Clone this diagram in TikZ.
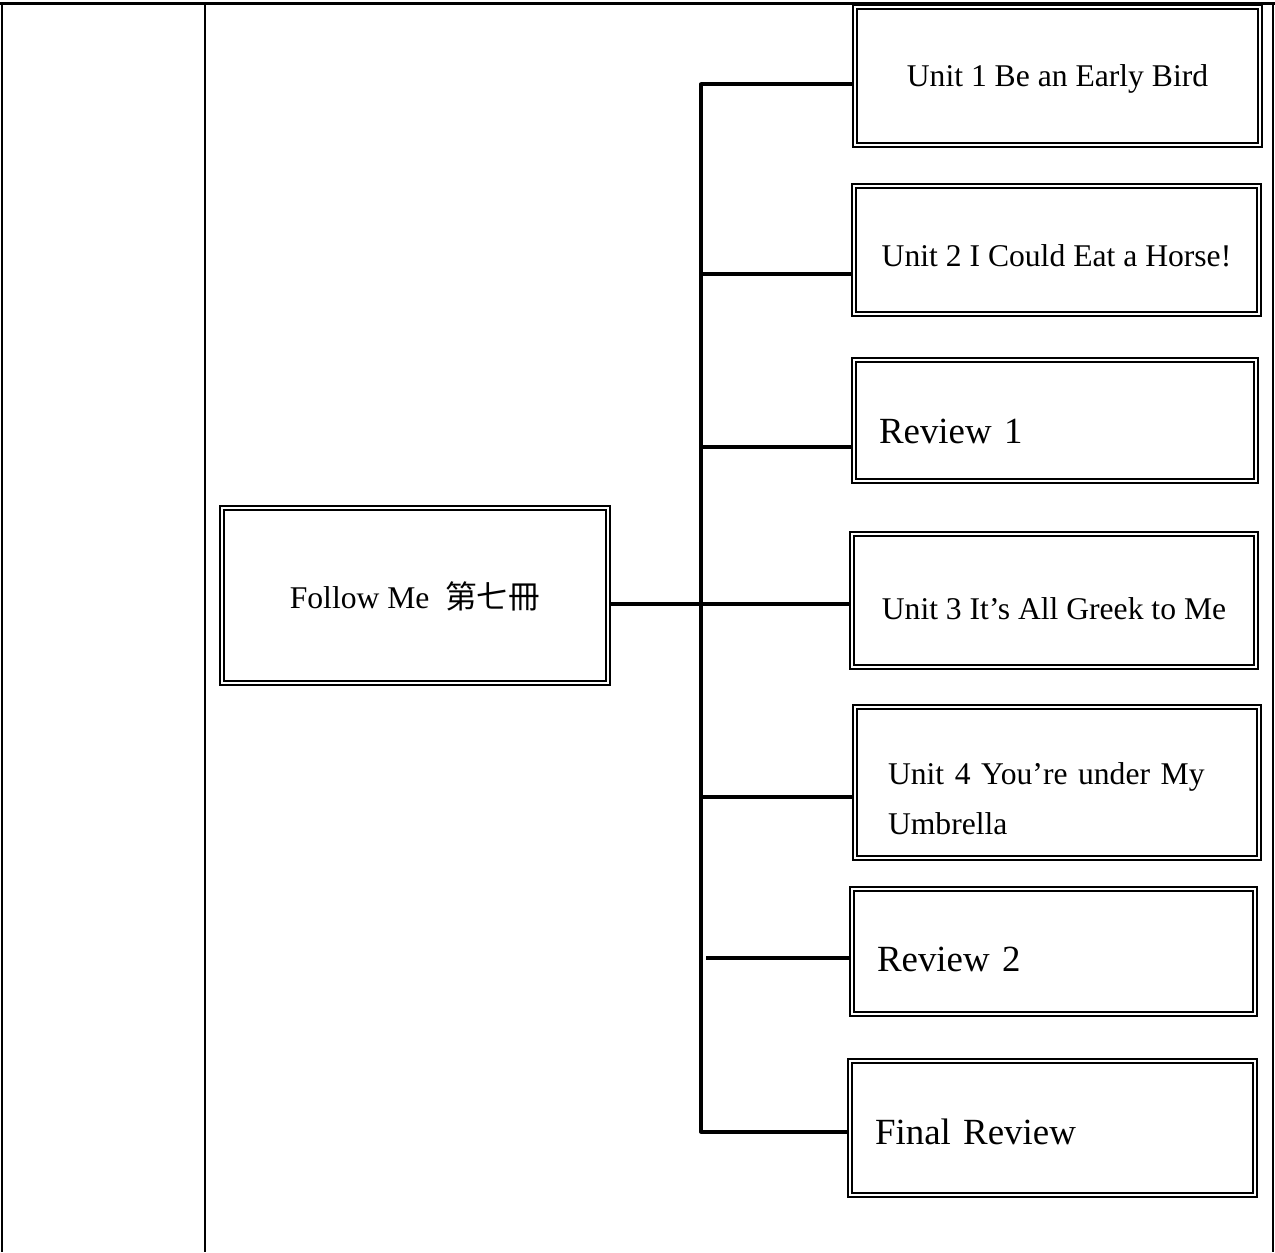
\documentclass[tikz,border=0pt]{standalone}
\usepackage{fontspec}
\setmainfont{Liberation Serif}
\newfontfamily\cjk{Noto Sans CJK TC}
\usepackage{tkz-euclide}

\tikzset{
  unitbox/.style={draw, double, line width=1.3pt, double distance=1.1pt,
    inner sep=0pt, text depth=0pt, font=\fontsize{18}{28}\selectfont},
  reviewbox/.style={unitbox, align=left, inner xsep=0.5cm,
    font=\fontsize{21}{25}\selectfont},
  branch/.style={line width=2.1pt},
  frame/.style={line width=1.7pt},
}

\begin{document}
\begin{tikzpicture}[x=0.02cm, y=-0.02cm]
    \useasboundingbox (0,0) rectangle (1275,1252);
    \draw[frame] (0,3) -- (1275,3);
    \draw[frame] (2,3) -- (2,1252);
    \draw[frame] (205,3) -- (205,1252);
    \draw[frame, line width=0.9pt] (1273,3) -- (1273,1252);

    \node[unitbox, text height=15.3pt, minimum width=7.72cm, minimum height=3.5cm] (book) at (415,595.5) {Follow Me\ \ {\cjk 第七冊}};
    \node[unitbox, text height=11.4pt, minimum width=8.1cm, minimum height=2.76cm] (u1) at (1057.5,76) {Unit 1 Be an Early Bird};
    \node[unitbox, text height=19.3pt, minimum width=8.1cm, minimum height=2.56cm] (u2) at (1056.5,250) {Unit 2 I Could Eat a Horse!};
    \node[reviewbox, text height=26.7pt, minimum width=8.04cm, minimum height=2.42cm, text width=7.04cm] (r1) at (1055,420.5) {Review 1};
    \node[unitbox, text height=22.1pt, minimum width=8.08cm, minimum height=2.66cm] (u3) at (1054,600.5) {Unit 3 It's All Greek to Me};
    \node[unitbox, align=left, inner xsep=0.66cm, text width=6.76cm, text height=37.8pt, text depth=35pt,
          minimum width=8.08cm, minimum height=3.02cm] (u4) at (1057,782.5) {Unit 4 You're under My\\Umbrella};
    \node[reviewbox, text height=23.3pt, minimum width=8.06cm, minimum height=2.5cm, text width=7.06cm] (r2) at (1053.5,951.5) {Review 2};
    \node[reviewbox, text height=19.3pt, minimum width=8.1cm, minimum height=2.68cm, text width=7.1cm] (fr) at (1052.5,1128) {Final Review};

    \tkzDefPoints{701/84/T,701/1132/B}
    \tkzDefPoints{701/84/c1,701/274/c2,701/447/c3,701/604/c4,701/797/c5,706/958/c6,701/1132/c7}
    \tkzDrawSegment[branch](T,B)
    \foreach \n/\c in {u1/c1,u2/c2,r1/c3,u3/c4,u4/c5,r2/c6,fr/c7}
        \draw[branch] (\c) -- (\c -| \n.west);
    \draw[branch] (c4 -| book.east) -- (c4);
\end{tikzpicture}
\end{document}
